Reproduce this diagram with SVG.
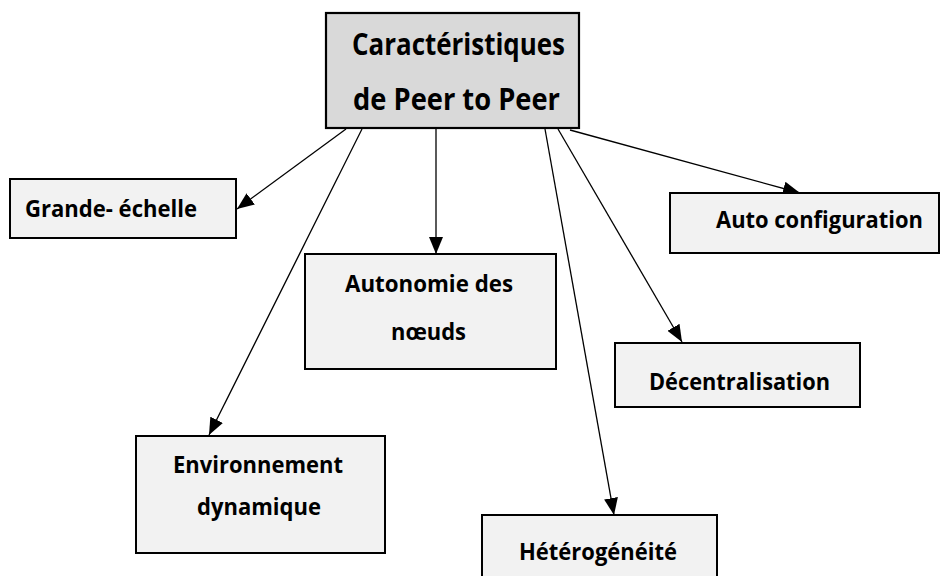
<svg xmlns="http://www.w3.org/2000/svg" width="941" height="576" viewBox="0 0 941 576">
  <style>
    .box { fill: #f2f2f2; stroke: #000; stroke-width: 2; }
    .root { fill: #d9d9d9; stroke: #000; stroke-width: 2.2; }
    .label { font-family: "Open Sans", "Liberation Sans", sans-serif; font-weight: bold; font-size: 22.5px; fill: #000; text-anchor: middle; }
    .title { font-size: 29.5px; }
    .edge { stroke: #000; stroke-width: 1.3; fill: none; marker-end: url(#arrow); }
  </style>
  <defs>
    <marker id="arrow" markerUnits="userSpaceOnUse" markerWidth="17" markerHeight="14" viewBox="0 0 17 14" refX="17" refY="7" orient="auto">
      <path d="M0,0 L17,7 L0,14 Z" fill="#000"/>
    </marker>
  </defs>
  <rect width="941" height="576" fill="#fff"/>

  <g id="connectors">
    <line class="edge" x1="346" y1="129" x2="237" y2="209"/>
    <line class="edge" x1="362" y1="129" x2="209" y2="435"/>
    <line class="edge" x1="436" y1="129" x2="436" y2="254"/>
    <line class="edge" x1="545" y1="129" x2="614" y2="515"/>
    <line class="edge" x1="558" y1="129" x2="682" y2="342"/>
    <line class="edge" x1="570" y1="130" x2="800" y2="193"/>
  </g>

  <g id="node-root">
    <rect class="root" x="326" y="13" width="253" height="115"/>
    <text class="label title" x="458.5" y="55" textLength="213" lengthAdjust="spacingAndGlyphs">Caractéristiques</text>
    <text class="label title" x="456.5" y="110" textLength="207" lengthAdjust="spacingAndGlyphs">de Peer to Peer</text>
  </g>

  <g id="node-grande-echelle">
    <rect class="box" x="10" y="179" width="226" height="59"/>
    <text class="label" x="111" y="217" textLength="172" lengthAdjust="spacingAndGlyphs">Grande- échelle</text>
  </g>

  <g id="node-auto-configuration">
    <rect class="box" x="670" y="193" width="269" height="60"/>
    <text class="label" x="819.5" y="228" textLength="207" lengthAdjust="spacingAndGlyphs">Auto configuration</text>
  </g>

  <g id="node-autonomie">
    <rect class="box" x="305" y="254" width="251" height="115"/>
    <text class="label" x="429" y="292" textLength="168" lengthAdjust="spacingAndGlyphs">Autonomie des</text>
    <text class="label" x="428.5" y="340" textLength="75" lengthAdjust="spacingAndGlyphs">nœuds</text>
  </g>

  <g id="node-decentralisation">
    <rect class="box" x="615" y="343" width="245" height="64"/>
    <text class="label" x="739.5" y="390" textLength="181" lengthAdjust="spacingAndGlyphs">Décentralisation</text>
  </g>

  <g id="node-environnement">
    <rect class="box" x="136" y="436" width="249" height="117"/>
    <text class="label" x="258" y="473" textLength="170" lengthAdjust="spacingAndGlyphs">Environnement</text>
    <text class="label" x="259" y="515" textLength="124" lengthAdjust="spacingAndGlyphs">dynamique</text>
  </g>

  <g id="node-heterogeneite">
    <rect class="box" x="482" y="515" width="235" height="80"/>
    <text class="label" x="598" y="560" textLength="158" lengthAdjust="spacingAndGlyphs">Hétérogénéité</text>
  </g>
</svg>
